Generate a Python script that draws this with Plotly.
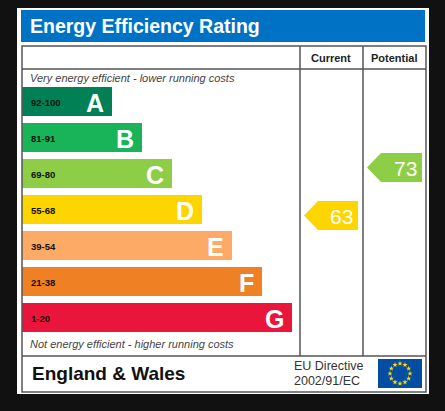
import plotly.graph_objects as go
import math

bands = ["A", "B", "C", "D", "E", "F", "G"]
ranges = ["92-100", "81-91", "69-80", "55-68", "39-54", "21-38", "1-20"]
lows = [92, 81, 69, 55, 39, 21, 1]
colors = ["#008054", "#19b459", "#8dce46", "#ffd500", "#fcaa65", "#ef8023", "#e9153b"]
current = 63
potential = 73

W, H = 445, 411
OFF = 8  # page body margin compensation
fig = go.Figure()

def band_index(v):
    for i, lo in enumerate(lows):
        if v >= lo:
            return i
    return len(lows) - 1

yc = [101.5 + 36 * i for i in range(7)]
lengths = [90 + 30 * i for i in range(7)]
fig.add_trace(go.Bar(y=yc, x=lengths, base=22, orientation="h", width=29,
                     marker=dict(color=colors, line=dict(width=0)), hoverinfo="skip"))

shapes = [
    dict(type="rect", x0=17, x1=429, y0=7, y1=394, fillcolor="white", line_width=0, layer="below"),
    dict(type="rect", x0=21, x1=425, y0=10, y1=42, fillcolor="#0072c6", line_width=0, layer="below"),
    dict(type="rect", x0=22, x1=426, y0=46, y1=392, line=dict(color="#555", width=1.5)),
    dict(type="line", x0=300, x1=300, y0=46, y1=356, line=dict(color="#555", width=1.5)),
    dict(type="line", x0=363, x1=363, y0=46, y1=356, line=dict(color="#555", width=1.5)),
    dict(type="line", x0=22, x1=426, y0=69, y1=69, line=dict(color="#555", width=1.5)),
    dict(type="line", x0=22, x1=426, y0=356, y1=356, line=dict(color="#555", width=1.5)),
    dict(type="rect", x0=378, x1=422, y0=359, y1=388, fillcolor="#034ea2", line_width=0, layer="below"),
]

ann = [
    dict(x=28, y=26, text="<b>Energy Efficiency Rating</b>", font=dict(size=19.5, color="white"), xanchor="left"),
    dict(x=331, y=58, text="<b>Current</b>", font=dict(size=11, color="#222")),
    dict(x=394, y=58, text="<b>Potential</b>", font=dict(size=11, color="#222")),
    dict(x=28, y=78, text="<i>Very energy efficient - lower running costs</i>", font=dict(size=11, color="#444"), xanchor="left"),
    dict(x=28, y=344, text="<i>Not energy efficient - higher running costs</i>", font=dict(size=11, color="#444"), xanchor="left"),
    dict(x=30, y=373, text="<b>England &amp; Wales</b>", font=dict(size=19, color="#111"), xanchor="left"),
    dict(x=292, y=366, text="EU Directive", font=dict(size=12.5, color="#333"), xanchor="left"),
    dict(x=292, y=381, text="2002/91/EC", font=dict(size=12.5, color="#333"), xanchor="left"),
]
for i in range(7):
    ann.append(dict(x=29, y=yc[i] + 1, text="<b>%s</b>" % ranges[i], font=dict(size=9.5, color="#111"), xanchor="left"))
    ann.append(dict(x=22 + lengths[i] - 6, y=yc[i] + 1, text="<b>%s</b>" % bands[i], font=dict(size=25, color="white"), xanchor="right"))

for v, x0, x1 in [(current, 304, 358), (potential, 367, 422)]:
    i = band_index(v)
    y = yc[i] + (1 if v == current else -1) * 6
    top, bot = y - 14.5, y + 14.5
    fig.add_trace(go.Scatter(x=[x0, x0 + 14, x1, x1, x0 + 14, x0], y=[y, top, top, bot, bot, y],
                             fill="toself", fillcolor=colors[i], line=dict(width=0), mode="lines", hoverinfo="skip"))
    ann.append(dict(x=x1 - 3, y=y + 1, text=str(v), font=dict(size=21, color="white"), xanchor="right"))

for a in ann:
    a["xref"] = "x"; a["yref"] = "y"; a["showarrow"] = False; a["yanchor"] = "middle"
    a["font"]["family"] = "Liberation Sans, Arial, sans-serif"

sx = [400 + 10 * math.cos(2 * math.pi * k / 12) for k in range(12)]
sy = [373.5 + 10 * math.sin(2 * math.pi * k / 12) for k in range(12)]
fig.add_trace(go.Scatter(x=sx, y=sy, mode="markers", marker=dict(symbol="star", size=4, color="#ffdd00"), hoverinfo="skip"))

fig.update_layout(width=W + OFF, height=H + OFF, margin=dict(l=0, r=0, t=0, b=0), paper_bgcolor="#111111",
                  plot_bgcolor="#111111", showlegend=False, shapes=shapes, annotations=ann,
                  xaxis=dict(range=[OFF, W + 2 * OFF], visible=False, fixedrange=True),
                  yaxis=dict(range=[H + 2 * OFF, OFF], visible=False, fixedrange=True))
fig.write_html("out.html", config={"displayModeBar": False},
               post_script="document.body.style.background='#111111';document.documentElement.style.background='#111111';")
